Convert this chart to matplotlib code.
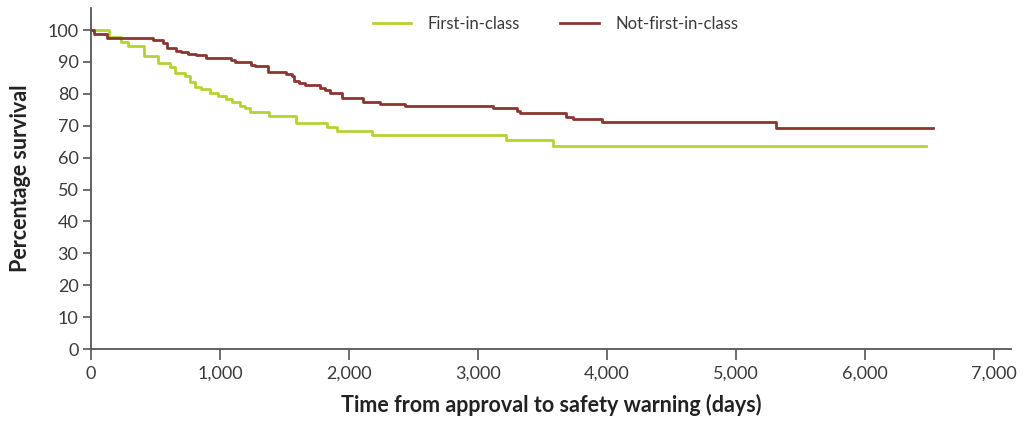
import matplotlib
matplotlib.use("Agg")
import matplotlib.pyplot as plt

# Kaplan-Meier style survival curves
first_days = [0, 137, 235, 287, 411, 519, 610, 654, 726, 770, 809, 855, 920, 984,
              1049, 1093, 1153, 1191, 1230, 1382, 1587, 1827, 1909, 2176, 3220,
              3580, 6473]
first_surv = [100, 97.9, 96.3, 95.0, 91.8, 89.8, 88.5, 86.6, 85.7, 83.6, 82.0, 81.5,
              80.2, 79.4, 78.4, 77.3, 76.2, 75.5, 74.2, 73.1, 70.7, 69.5, 68.4, 67.1,
              65.5, 63.6, 63.6]

notfirst_days = [0, 25, 120, 481, 558, 590, 661, 700, 752, 816, 894, 1088, 1114,
                 1243, 1269, 1374, 1512, 1556, 1576, 1615, 1659, 1775, 1814, 1853,
                 1943, 2111, 2240, 2434, 3115, 3302, 3322, 3682, 3733, 3965, 5310,
                 6527]
notfirst_surv = [100, 98.9, 97.4, 96.9, 96.0, 94.3, 93.5, 93.0, 92.5, 92.2, 91.1,
                 90.6, 90.1, 89.0, 88.6, 86.9, 86.2, 85.6, 84.1, 83.5, 82.7, 81.9,
                 81.2, 80.3, 78.8, 77.5, 76.8, 76.2, 75.4, 74.7, 73.9, 72.8, 72.0,
                 71.1, 69.2, 69.2]

x_ticks = [0, 1000, 2000, 3000, 4000, 5000, 6000, 7000]
x_tick_labels = ["0", "1,000", "2,000", "3,000", "4,000", "5,000", "6,000", "7,000"]
y_ticks = list(range(0, 101, 10))

green = "#b4d333"
maroon = "#8a3530"
axis_col = "#555555"
text_col = "#3a3a3a"

plt.rcParams['font.family'] = ['Lato', 'DejaVu Sans']

fig = plt.figure(figsize=(10.24, 4.25), dpi=100)
ax = fig.add_axes([0.0889, 0.1788, 0.8984, 0.8024])

ax.plot(first_days, first_surv, drawstyle="steps-post", color=green, lw=2.0,
        label="First-in-class")
ax.plot(notfirst_days, notfirst_surv, drawstyle="steps-post", color=maroon, lw=2.0,
        label="Not-first-in-class")

ax.set_xlim(0, 7132)
ax.set_ylim(0, 106.9)
ax.set_xticks(x_ticks)
ax.set_xticklabels(x_tick_labels)
ax.set_yticks(y_ticks)

for s in ["top", "right"]:
    ax.spines[s].set_visible(False)
for s in ["left", "bottom"]:
    ax.spines[s].set_color(axis_col)
    ax.spines[s].set_linewidth(1.3)

ax.tick_params(axis="x", direction="out", length=8, width=1.2, color=axis_col,
               labelsize=13, labelcolor=text_col, pad=4)
ax.tick_params(axis="y", direction="out", length=6, width=1.2, color=axis_col,
               labelsize=13, labelcolor=text_col, pad=3)

ax.set_xlabel("Time from approval to safety warning (days)", fontsize=15.5,
              fontweight="bold", color="#222222", labelpad=9)
ax.set_ylabel("Percentage survival", fontsize=15.5, fontweight="bold",
              color="#222222", labelpad=12)

leg = ax.legend(loc="upper center", bbox_to_anchor=(0.505, 1.02), ncol=2,
                frameon=False, fontsize=12, handlelength=2.3, handletextpad=1.0,
                columnspacing=2.4)
for t in leg.get_texts():
    t.set_color(text_col)

fig.savefig("out.png", dpi=100)
